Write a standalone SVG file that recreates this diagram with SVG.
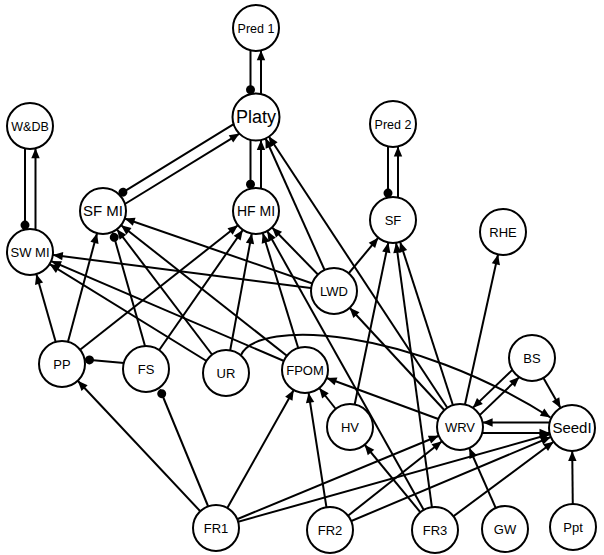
<svg xmlns="http://www.w3.org/2000/svg" width="604" height="555" viewBox="0 0 604 555">
<style>
.c line,.c path{stroke:#000;stroke-width:2;fill:none}
.e{marker-end:url(#a)}
.e0{marker-end:url(#a0)}
.d0{marker-end:url(#d0)}
.n circle{fill:#fff;stroke:#000;stroke-width:2}
.n text{font-family:"Liberation Sans",Arial,sans-serif;font-size:13px;text-anchor:middle;fill:#000}
</style>
<defs>
<marker id="a" viewBox="-40 -6 42 12" markerWidth="42" markerHeight="12" refX="0" refY="0" orient="auto" markerUnits="userSpaceOnUse"><path d="M-33,-4.2 L-23,0 L-33,4.2 Z" fill="#000"/></marker>
<marker id="a0" viewBox="-12 -6 14 12" markerWidth="14" markerHeight="12" refX="0" refY="0" orient="auto" markerUnits="userSpaceOnUse"><path d="M-10,-4.2 L0,0 L-10,4.2 Z" fill="#000"/></marker>
<marker id="d0" viewBox="-10 -6 12 12" markerWidth="12" markerHeight="12" refX="0" refY="0" orient="auto" markerUnits="userSpaceOnUse"><circle cx="-4.5" cy="0" r="4.5" fill="#000"/></marker>
</defs>
<g id="connectors" class="c">
<line class="d0" x1="250.5" y1="50.3" x2="250.5" y2="94.2"/>
<line class="e0" x1="261" y1="94.2" x2="261" y2="50.3"/>
<line class="d0" x1="250.5" y1="139.9" x2="250.5" y2="188.7"/>
<line class="e0" x1="261" y1="188.7" x2="261" y2="139.9"/>
<line class="d0" x1="25" y1="148.5" x2="25" y2="229.6"/>
<line class="e0" x1="35.5" y1="229.7" x2="35.5" y2="148.3"/>
<line class="d0" x1="388" y1="146.5" x2="388" y2="197.6"/>
<line class="e0" x1="398" y1="197.6" x2="398" y2="146.5"/>
<line class="d0" x1="233.7" y1="124.2" x2="119.1" y2="194.6"/>
<line class="e0" x1="124.9" y1="204" x2="239.5" y2="133.6"/>
<line class="e0" x1="512.3" y1="369.9" x2="472.7" y2="407.9"/>
<line class="e0" x1="479.7" y1="415.1" x2="519.3" y2="377.1"/>
<line class="e0" x1="549.7" y1="422.5" x2="482.6" y2="422.5"/>
<line class="e0" x1="482.2" y1="433" x2="549.5" y2="433"/>
<path class="e0" d="M241,355 C258,318 410,328 550.5,417.5"/>
<line class="d0" x1="124" y1="363" x2="85" y2="359.5"/>
<line class="d0" x1="208" y1="506" x2="160" y2="389.5"/>
<line class="d0" x1="145" y1="346" x2="113" y2="233"/>
<line class="e" x1="62" y1="364" x2="30" y2="252"/>
<line class="e" x1="62" y1="364" x2="103" y2="211"/>
<line class="e" x1="62" y1="364" x2="256" y2="211"/>
<line class="e" x1="146" y1="369" x2="256" y2="211"/>
<line class="e" x1="226" y1="373" x2="30" y2="252"/>
<line class="e" x1="226" y1="373" x2="103" y2="211"/>
<line class="e" x1="226" y1="373" x2="256" y2="211"/>
<line class="e" x1="305" y1="370" x2="30" y2="252"/>
<line class="e" x1="305" y1="370" x2="103" y2="211"/>
<line class="e" x1="305" y1="370" x2="256" y2="211"/>
<line class="e" x1="334" y1="291" x2="30" y2="252"/>
<line class="e" x1="334" y1="291" x2="103" y2="211"/>
<line class="e" x1="334" y1="291" x2="256" y2="211"/>
<line class="e" x1="334" y1="291" x2="256" y2="117"/>
<line class="e" x1="334" y1="291" x2="393" y2="220"/>
<line class="e" x1="460" y1="427" x2="256" y2="117"/>
<line class="e" x1="460" y1="427" x2="334" y2="291"/>
<line class="e" x1="460" y1="427" x2="393" y2="220"/>
<line class="e" x1="460" y1="427" x2="503" y2="232"/>
<line class="e" x1="460" y1="427" x2="305" y2="370"/>
<line class="e" x1="350" y1="427" x2="393" y2="220"/>
<line class="e" x1="350" y1="427" x2="305" y2="370"/>
<line class="e" x1="435" y1="530" x2="256" y2="211"/>
<line class="e" x1="435" y1="530" x2="393" y2="220"/>
<line class="e" x1="435" y1="530" x2="350" y2="427"/>
<line class="e" x1="435" y1="530" x2="572" y2="428"/>
<line class="e" x1="216" y1="528" x2="62" y2="364"/>
<line class="e" x1="216" y1="528" x2="305" y2="370"/>
<line class="e" x1="216" y1="528" x2="460" y2="427"/>
<line class="e" x1="216" y1="528" x2="572" y2="428"/>
<line class="e" x1="330" y1="530" x2="305" y2="370"/>
<line class="e" x1="330" y1="530" x2="460" y2="427"/>
<line class="e" x1="330" y1="530" x2="572" y2="428"/>
<line class="e" x1="505" y1="529" x2="460" y2="427"/>
<line class="e" x1="573" y1="527" x2="572" y2="428"/>
<line class="e" x1="532" y1="358" x2="572" y2="428"/>
</g>
<g id="nodes" class="n">
<g id="n-pred1"><circle cx="256" cy="28" r="23"/><text x="256" y="32.5" style="font-size:12.5px">Pred 1</text></g>
<g id="n-platy"><circle cx="256" cy="117" r="23.5"/><text x="256" y="123.4" style="font-size:18px">Platy</text></g>
<g id="n-wdb"><circle cx="30" cy="126" r="23"/><text x="30" y="130.5" style="font-size:12.5px">W&amp;DB</text></g>
<g id="n-pred2"><circle cx="393" cy="124" r="23"/><text x="393" y="128.5" style="font-size:12.5px">Pred 2</text></g>
<g id="n-sfmi"><circle cx="103" cy="211" r="23"/><text x="103" y="216.4" style="font-size:15px">SF MI</text></g>
<g id="n-hfmi"><circle cx="256" cy="211" r="23"/><text x="256" y="216" style="font-size:14px">HF MI</text></g>
<g id="n-sf"><circle cx="393" cy="220" r="23"/><text x="393" y="224.7">SF</text></g>
<g id="n-rhe"><circle cx="503" cy="232" r="23"/><text x="503" y="236.7">RHE</text></g>
<g id="n-swmi"><circle cx="30" cy="252" r="23"/><text x="30" y="256.7">SW MI</text></g>
<g id="n-lwd"><circle cx="334" cy="291" r="23"/><text x="334" y="295.7">LWD</text></g>
<g id="n-pp"><circle cx="62" cy="364" r="23"/><text x="62" y="368.7">PP</text></g>
<g id="n-fs"><circle cx="146" cy="369" r="23"/><text x="146" y="373.7">FS</text></g>
<g id="n-ur"><circle cx="226" cy="373" r="23"/><text x="226" y="377.7">UR</text></g>
<g id="n-fpom"><circle cx="305" cy="370" r="23"/><text x="305" y="374.7">FPOM</text></g>
<g id="n-bs"><circle cx="532" cy="358" r="23"/><text x="532" y="362.7">BS</text></g>
<g id="n-hv"><circle cx="350" cy="427" r="23"/><text x="350" y="431.7">HV</text></g>
<g id="n-wrv"><circle cx="460" cy="427" r="23"/><text x="460" y="431.7">WRV</text></g>
<g id="n-seedi"><circle cx="572" cy="428" r="23"/><text x="572" y="433.4" style="font-size:15px">SeedI</text></g>
<g id="n-fr1"><circle cx="216" cy="528" r="23"/><text x="216" y="532.7">FR1</text></g>
<g id="n-fr2"><circle cx="330" cy="530" r="23"/><text x="330" y="534.7">FR2</text></g>
<g id="n-fr3"><circle cx="435" cy="530" r="23"/><text x="435" y="534.7">FR3</text></g>
<g id="n-gw"><circle cx="505" cy="529" r="23"/><text x="505" y="533.7">GW</text></g>
<g id="n-ppt"><circle cx="573" cy="527" r="23"/><text x="573" y="531.7">Ppt</text></g>
</g>
</svg>
